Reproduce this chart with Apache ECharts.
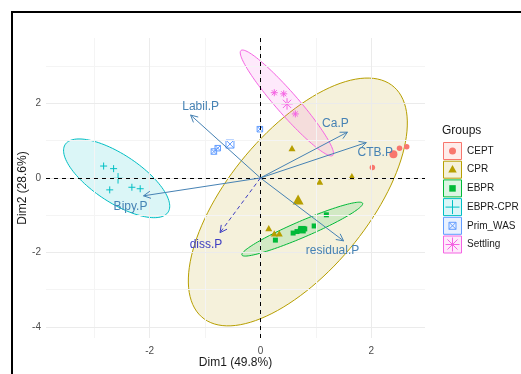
<!DOCTYPE html>
<html>
<head>
<meta charset="utf-8">
<script src="https://cdn.jsdelivr.net/npm/echarts@6/dist/echarts.min.js"></script>
<style>
  html, body { margin: 0; padding: 0; background: #ffffff; }
  #chart { width: 521px; height: 374px; }
</style>
</head>
<body>
<div id="chart"></div>
<script>
// ---- PCA biplot data (individuals by group, centroids, ellipses, variables) ----
const groups = ['CEPT', 'CPR', 'EBPR', 'EBPR-CPR', 'Prim_WAS', 'Settling'];

const ceptPoints     = [[2.51, 0.80], [2.64, 0.84], [2.02, 0.28]];
const cprPoints      = [[0.57, 0.78], [1.07, -0.12], [1.65, 0.03], [0.15, -1.37], [0.25, -1.51], [0.34, -1.51]];
const ebprPoints     = [[1.19, -0.99], [0.97, -1.29], [0.80, -1.37], [0.72, -1.40], [0.66, -1.44], [0.59, -1.48], [0.27, -1.67]];
const ebprCprPoints  = [[-2.83, 0.32], [-2.65, 0.25], [-2.72, -0.32], [-2.32, -0.25], [-2.17, -0.29]];
const primWasPoints  = [[-0.01, 1.31], [-0.77, 0.80], [-0.84, 0.71]];
const settlingPoints = [[0.25, 2.29], [0.42, 2.26], [0.63, 1.72]];

// group mean points, in the order of `groups`
const groupCentroids = [[2.40, 0.64], [0.68, -0.61], [0.75, -1.39], [-2.57, -0.01], [-0.55, 0.91], [0.48, 1.99]];

// concentration ellipses: centre, semi-axes and rotation (data units / degrees)
const ellipseGroups    = ['CPR', 'EBPR', 'EBPR-CPR', 'Settling'];
const ellipseCenters   = [[0.675, -0.645], [0.755, -1.375], [-2.595, -0.01], [0.477, 2.015]];
const ellipseSemiMajor = [3.607, 1.294, 1.32, 1.637];
const ellipseSemiMinor = [1.407, 0.20, 0.543, 0.226];
const ellipseAngles    = [65.3, 33, -49, -60];

// active variables
const varNames = ['Labil.P', 'Ca.P', 'CTB.P', 'Bipy.P', 'residual.P'];
const varDim1  = [-1.26, 1.57, 1.91, -2.11, 1.50];
const varDim2  = [1.69, 1.23, 0.95, -0.48, -1.69];
// supplementary variable
const supNames = ['diss.P'];
const supDim1  = [-0.73];
const supDim2  = [-1.47];

// axis ticks
const dim1Ticks = [-2, 0, 2];
const dim2Ticks = [-4, -2, 0, 2];
const dim1Minor = [-3, -1, 1];
const dim2Minor = [-3, -1, 1, 3];

// ---- styling ----
const FONT = "'Liberation Sans', Arial, sans-serif";
const groupColors = ['#F8766D', '#B79F00', '#00BA38', '#00BFC4', '#619CFF', '#F564E3'];
const groupShapes = ['circle', 'triangle', 'square', 'plus', 'squarecross', 'asterisk'];
const pointSize    = [5.5, 7, 5, 7, 5.5, 7];
const centroidSize = [8, 11, 7.5, 10.5, 8, 11.5];
const fillAlpha = 0.14;
const varColor = '#4682B4';
const supColor = '#3d3dc2';
// label nudges (px) from each arrow tip
const varLabelNudge = [[10, -8], [-12, -8], [9, 10], [-13, 11], [-11, 10]];
const supLabelNudge = [[-14, 12]];

function withAlpha(hex, a) {
  const n = parseInt(hex.slice(1), 16);
  return 'rgba(' + (n >> 16 & 255) + ',' + (n >> 8 & 255) + ',' + (n & 255) + ',' + a + ')';
}

// draw one plotting symbol as zrender elements centred on (cx, cy)
function symbolElements(shape, cx, cy, s, color) {
  const h = s / 2;
  const line = (x1, y1, x2, y2) => ({ type: 'line', shape: { x1, y1, x2, y2 }, style: { stroke: color, lineWidth: 1 } });
  switch (shape) {
    case 'circle':
      return [{ type: 'circle', shape: { cx, cy, r: h }, style: { fill: color } }];
    case 'triangle': {
      const th = s * 0.9;
      return [{ type: 'polygon', shape: { points: [[cx, cy - th * 0.62], [cx - h, cy + th * 0.38], [cx + h, cy + th * 0.38]] }, style: { fill: color } }];
    }
    case 'square':
      return [{ type: 'rect', shape: { x: cx - h, y: cy - h, width: s, height: s }, style: { fill: color } }];
    case 'plus':
      return [line(cx - h, cy, cx + h, cy), line(cx, cy - h, cx, cy + h)];
    case 'squarecross':
      return [
        { type: 'rect', shape: { x: cx - h, y: cy - h, width: s, height: s }, style: { fill: 'none', stroke: color, lineWidth: 1 } },
        line(cx - h, cy - h, cx + h, cy + h), line(cx + h, cy - h, cx - h, cy + h)
      ];
    case 'asterisk': {
      const d = h * 0.72;
      return [line(cx - h, cy, cx + h, cy), line(cx, cy - h, cx, cy + h),
              line(cx - d, cy - d, cx + d, cy + d), line(cx + d, cy - d, cx - d, cy + d)];
    }
  }
  return [];
}

// ---- series data built from the arrays above ----
const pointSets = [ceptPoints, cprPoints, ebprPoints, ebprCprPoints, primWasPoints, settlingPoints];
const pointData = [];
pointSets.forEach((pts, g) => pts.forEach(p => pointData.push([p[0], p[1], g, 0])));
groupCentroids.forEach((p, g) => pointData.push([p[0], p[1], g, 1]));

const ellipseData = ellipseGroups.map((name, i) => [
  ellipseCenters[i][0], ellipseCenters[i][1], ellipseSemiMajor[i], ellipseSemiMinor[i], ellipseAngles[i], groups.indexOf(name)
]);

const arrowData = varNames.map((n, i) => [varDim1[i], varDim2[i], i, 0])
  .concat(supNames.map((n, i) => [supDim1[i], supDim2[i], i, 1]));

function renderEllipse(params, api) {
  const cx = api.value(0), cy = api.value(1), a = api.value(2), b = api.value(3);
  const ang = api.value(4) * Math.PI / 180;
  const color = groupColors[api.value(5)];
  const pts = [];
  for (let k = 0; k < 120; k++) {
    const t = k / 120 * 2 * Math.PI;
    const u = a * Math.cos(t), v = b * Math.sin(t);
    pts.push(api.coord([cx + u * Math.cos(ang) - v * Math.sin(ang), cy + u * Math.sin(ang) + v * Math.cos(ang)]));
  }
  return { type: 'polygon', shape: { points: pts }, style: { fill: withAlpha(color, fillAlpha), stroke: color, lineWidth: 1 } };
}

function renderPoint(params, api) {
  const g = api.value(2), big = api.value(3) === 1;
  const p = api.coord([api.value(0), api.value(1)]);
  return { type: 'group', children: symbolElements(groupShapes[g], p[0], p[1], big ? centroidSize[g] : pointSize[g], groupColors[g]) };
}

function renderArrow(params, api) {
  const idx = api.value(2), sup = api.value(3) === 1;
  const color = sup ? supColor : varColor;
  const name = sup ? supNames[idx] : varNames[idx];
  const nudge = sup ? supLabelNudge[idx] : varLabelNudge[idx];
  const p0 = api.coord([0, 0]);
  const p1 = api.coord([api.value(0), api.value(1)]);
  const dx = p1[0] - p0[0], dy = p1[1] - p0[1];
  const L = Math.hypot(dx, dy), ux = dx / L, uy = dy / L;
  const hl = 7, hw = 3.6;
  const bx = p1[0] - ux * hl, by = p1[1] - uy * hl;
  return {
    type: 'group',
    children: [
      { type: 'line', shape: { x1: p0[0], y1: p0[1], x2: p1[0], y2: p1[1] },
        style: { stroke: color, lineWidth: 1, lineDash: sup ? [4, 3] : null } },
      { type: 'polyline', shape: { points: [[bx - uy * hw, by + ux * hw], [p1[0], p1[1]], [bx + uy * hw, by - ux * hw]] },
        style: { stroke: color, fill: null, lineWidth: 1 } },
      { type: 'text', x: p1[0] + nudge[0], y: p1[1] + nudge[1],
        style: { text: name, fill: color, font: '12px ' + FONT, align: 'center', verticalAlign: 'middle' } }
    ]
  };
}

// ---- legend (drawn as graphic elements) ----
const legendElements = [
  { type: 'text', x: 442, y: 131, style: { text: 'Groups', fill: '#1a1a1a', font: '12px ' + FONT, verticalAlign: 'middle' } }
];
groups.forEach((name, g) => {
  const cy = 151 + g * 18.7;
  legendElements.push({ type: 'rect', shape: { x: 443.5, y: cy - 8.5, width: 18, height: 17 },
    style: { fill: withAlpha(groupColors[g], fillAlpha), stroke: groupColors[g], lineWidth: 1 } });
  legendElements.push({ type: 'group', children: symbolElements(groupShapes[g], 452.5, cy, g === 3 || g === 5 ? 14 : pointSize[g] + 1.5, groupColors[g]) });
  legendElements.push({ type: 'text', x: 467, y: cy, style: { text: name, fill: '#1a1a1a', font: '10px ' + FONT, verticalAlign: 'middle' } });
});

const gridLine = (key, values, color) => values.map(v => ({ [key]: v, lineStyle: { color, width: 1, type: 'solid' } }));

const option = {
  animation: false,
  backgroundColor: '#ffffff',
  grid: { left: 46, right: 96, top: 38, bottom: 36, containLabel: false },
  xAxis: {
    type: 'value', min: -3.87, max: 2.97,
    name: 'Dim1 (49.8%)', nameLocation: 'middle', nameGap: 19, nameMoveOverlap: false,
    nameTextStyle: { color: '#1a1a1a', fontSize: 12, fontFamily: FONT },
    axisLine: { show: false },
    splitLine: { show: false },
    axisTick: { show: true, customValues: dim1Ticks, length: 3, lineStyle: { color: '#333333' } },
    axisLabel: { customValues: dim1Ticks, color: '#4d4d4d', fontSize: 10, fontFamily: FONT, margin: 8 }
  },
  yAxis: {
    type: 'value', min: -4.30, max: 3.76,
    name: 'Dim2 (28.6%)', nameLocation: 'middle', nameGap: 17, nameMoveOverlap: false,
    nameTextStyle: { color: '#1a1a1a', fontSize: 12, fontFamily: FONT },
    axisLine: { show: false },
    splitLine: { show: false },
    axisTick: { show: true, customValues: dim2Ticks, length: 3, lineStyle: { color: '#333333' } },
    axisLabel: { customValues: dim2Ticks, color: '#4d4d4d', fontSize: 10, fontFamily: FONT, margin: 5 }
  },
  graphic: [
    { type: 'rect', shape: { x: 12, y: 12, width: 700, height: 600 }, style: { fill: 'none', stroke: '#000000', lineWidth: 2 }, silent: true },
    { type: 'group', children: legendElements, silent: true }
  ],
  series: [
    {
      // background grid and zero reference lines
      type: 'line', data: [], silent: true, z: 1,
      markLine: {
        silent: true, symbol: 'none', label: { show: false }, animation: false,
        data: []
          .concat(gridLine('xAxis', dim1Minor, '#f4f4f4'))
          .concat(gridLine('yAxis', dim2Minor, '#f4f4f4'))
          .concat(gridLine('xAxis', dim1Ticks, '#ebebeb'))
          .concat(gridLine('yAxis', dim2Ticks, '#ebebeb'))
      }
    },
    {
      type: 'line', data: [], silent: true, z: 2,
      markLine: {
        silent: true, symbol: 'none', label: { show: false }, animation: false,
        lineStyle: { color: '#000000', width: 1, type: [4, 4] },
        data: [{ xAxis: 0 }, { yAxis: 0 }]
      }
    },
    { type: 'custom', renderItem: renderEllipse, data: ellipseData, silent: true, z: 3 },
    { type: 'custom', renderItem: renderPoint, data: pointData, silent: true, z: 4 },
    { type: 'custom', renderItem: renderArrow, data: arrowData, silent: true, z: 5 }
  ]
};

const chart = echarts.init(document.getElementById('chart'), null, { renderer: 'canvas' });
chart.setOption(option);
</script>
</body>
</html>
